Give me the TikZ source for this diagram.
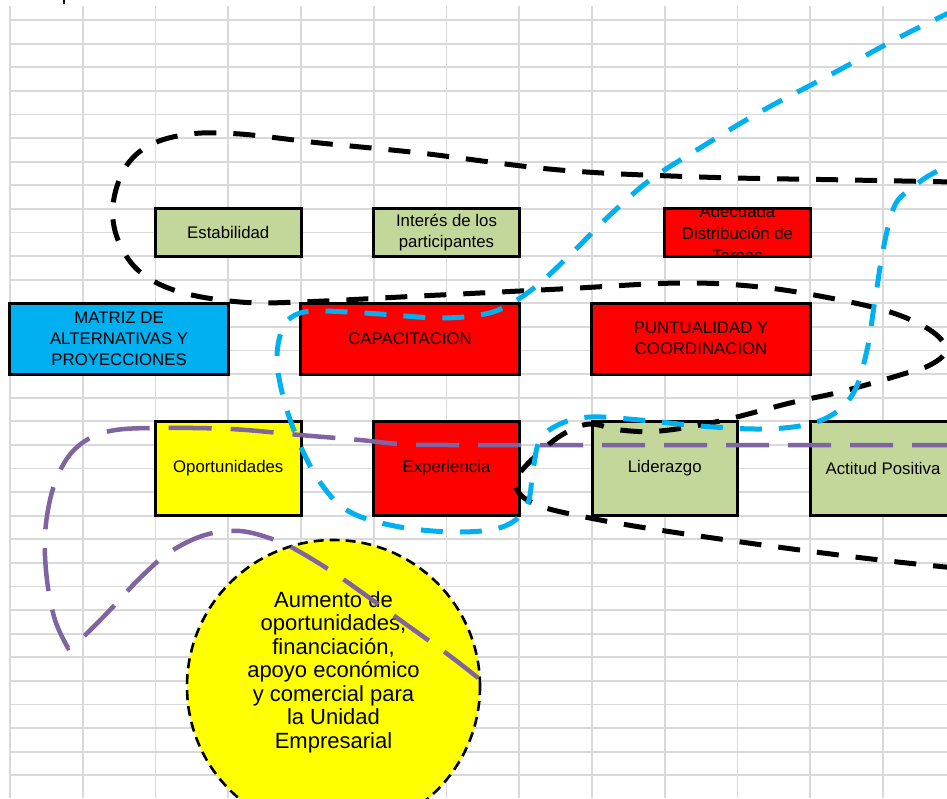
\documentclass[tikz,border=0pt]{standalone}
\usepackage{fontspec}
\setmainfont{Liberation Sans}
\definecolor{gridgray}{HTML}{D9D9D9}
\definecolor{cellgreen}{HTML}{C4D79B}
\definecolor{cellred}{HTML}{FF0000}
\definecolor{cellblue}{HTML}{00B0F0}
\definecolor{cellyellow}{HTML}{FFFF00}
\definecolor{loopblue}{HTML}{00B0F0}
\definecolor{looppurple}{HTML}{8064A2}
\begin{document}
\begin{tikzpicture}[x=1pt,y=-1pt,
  cellbox/.style={draw=black, line width=3pt, rectangle, inner sep=0pt,
    align=center, font=\fontsize{16.8}{21}\selectfont},
  gridline/.style={draw=gridgray, line width=1.8pt},
  blackloop/.style={draw=black, line width=5pt, dash pattern=on 22pt off 17pt},
  blueloop/.style={draw=loopblue, line width=5pt, dash pattern=on 22pt off 17pt},
  purpleloop/.style={draw=looppurple, line width=4.5pt, dash pattern=on 43pt off 19pt}]
\useasboundingbox (0,0) rectangle (947,798);
\fill[white] (0,0) rectangle (947,798);

% spreadsheet grid
\foreach \gx in {10,82.75,155.5,228.25,301,373.75,446.5,519.25,592,664.75,737.5,810.25,883}
  \draw[gridline] (\gx,6) -- (\gx,798);
\foreach \k in {0,...,32}
  \draw[gridline] (10,20+23.6*\k) -- (947,20+23.6*\k);

% stroke left over from the header line above the grid
\draw[black, line width=2pt] (63.5,0) -- (63.5,4);

% top row
\node[cellbox, fill=cellgreen, minimum width=145.5pt, minimum height=47.2pt] (estab) at (228.25,232.4) {Estabilidad};
\node[cellbox, fill=cellgreen, minimum width=145.5pt, minimum height=47.2pt] (interes) at (446.5,232.4) {Interés de los\\participantes};
\node[cellbox, fill=cellred, minimum width=145.5pt, minimum height=47.2pt] (tareas) at (737.5,232.4) {};
\begin{scope}
  \clip (666.5,210.3) rectangle (808.5,254.5);
  \node[align=center, font=\fontsize{16.8}{22}\selectfont] (tareasTxt) at (737.5,233) {Adecuada\\Distribución de\\Tareas};
\end{scope}

% middle row
\node[cellbox, fill=cellblue, minimum width=218.25pt, minimum height=70.8pt] (matriz) at (119.1,338.6) {MATRIZ DE\\ALTERNATIVAS Y\\PROYECCIONES};
\node[cellbox, fill=cellred, minimum width=218.25pt, minimum height=70.8pt] (capac) at (410.1,338.6) {CAPACITACION};
\node[cellbox, fill=cellred, minimum width=218.25pt, minimum height=70.8pt] (puntual) at (701.1,338.6) {PUNTUALIDAD Y\\COORDINACION};

% bottom row
\node[cellbox, fill=cellyellow, minimum width=145.5pt, minimum height=94.4pt] (oport) at (228.25,468.4) {Oportunidades};
\node[cellbox, fill=cellred, minimum width=145.5pt, minimum height=94.4pt] (exper) at (446.5,468.4) {Experiencia};
\node[cellbox, fill=cellgreen, minimum width=145.5pt, minimum height=94.4pt] (lider) at (664.75,468.4) {Liderazgo};
\node[cellbox, fill=cellgreen, minimum width=145.5pt, minimum height=94.4pt] (actitud) at (883,468.4) {Actitud Positiva};

% result circle
\node[circle, draw=black, fill=cellyellow, line width=2.6pt, dash pattern=on 10pt off 6pt,
  minimum size=293pt, inner sep=0pt] (meta) at (333.5,686.5) {};
\node[align=center, font=\fontsize{22}{23.5}\selectfont] (metaTxt) at (333.5,672)
  {Aumento de\\oportunidades,\\financiación,\\apoyo económico\\y comercial para\\la Unidad\\Empresarial};

% purple loop
\draw[purpleloop] plot[smooth, tension=0.6] coordinates {(955,445) (700,445) (450,445) (400,444) (360,440) (300,435) (230,429) (150,428) (110,431) (85,441) (66,460) (52,492) (45,535) (47,580) (55,620) (68,648)}
  -- plot[smooth, tension=0.6] coordinates {(68,648) (82,638) (110,610) (140,578) (170,552) (205,535) (240,531) (275,540) (300,552) (340,577) (400,620) (450,656) (487,685)};

% black snake loop
\draw[blackloop] plot[smooth, tension=0.6] coordinates {(955,182) (850,180) (700,177) (560,170) (420,153) (320,143) (240,134) (190,134) (150,145) (125,168) (113,205) (118,240) (140,272) (180,292) (240,302) (300,302) (420,296) (560,289) (680,283) (760,287) (830,298) (890,312) (930,330) (946,349) (932,364) (900,375) (840,392) (790,403) (720,421) (660,431) (620,430) (590,424) (565,433) (540,452) (518,476) (519,493) (540,506) (580,516) (640,527) (720,539) (800,550) (880,560) (955,568)};

% blue loop
\draw[blueloop] plot[smooth, tension=0.6] coordinates {(955,10) (900,37) (830,75) (760,112) (700,148) (650,180) (610,215) (575,250) (540,283) (512,303) (485,314) (440,318) (380,314) (320,311) (295,315) (282,330) (277,360) (284,400) (300,445) (322,485) (350,512) (400,527) (460,532) (505,526) (527,505) (533,470) (540,440) (560,424) (590,417) (640,420) (700,426) (760,429) (805,425) (835,413) (855,390) (867,350) (875,300) (884,245) (895,205) (912,188) (930,175) (955,163)};
\end{tikzpicture}
\end{document}
